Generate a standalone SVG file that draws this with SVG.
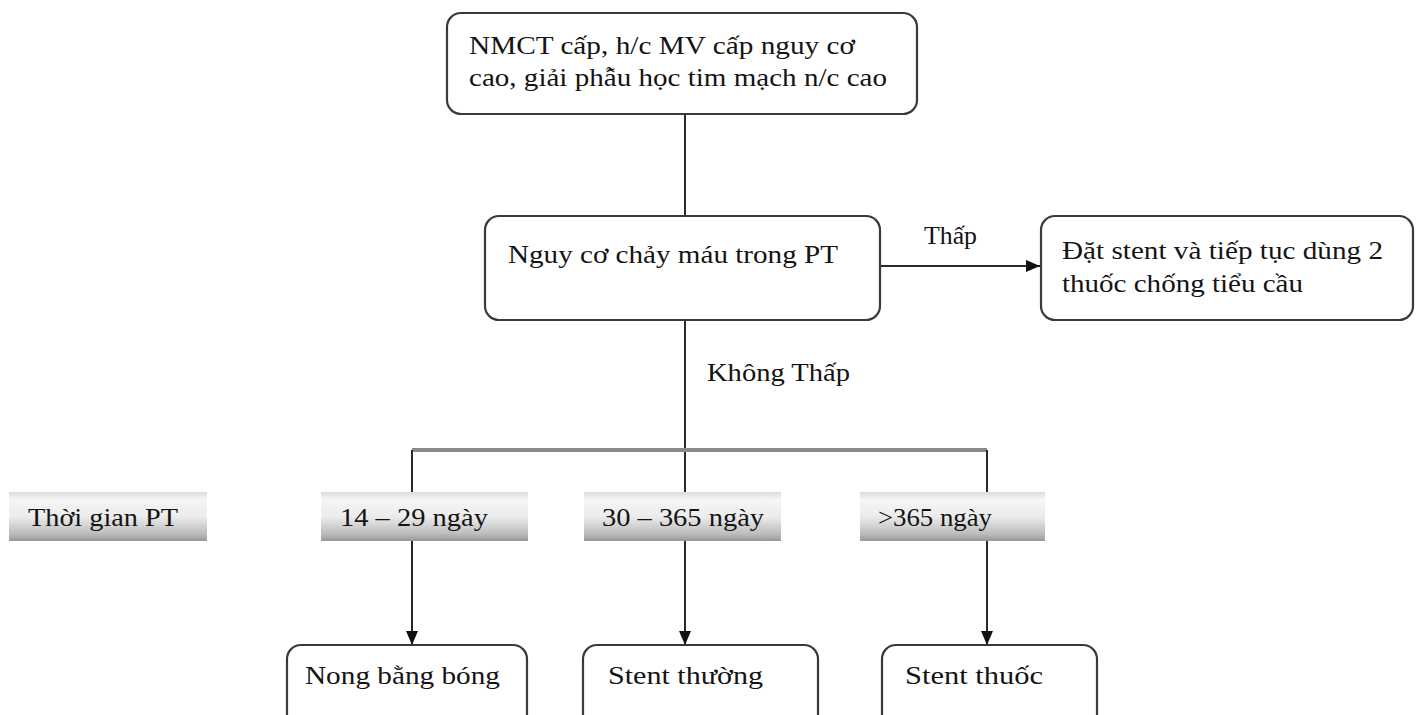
<svg xmlns="http://www.w3.org/2000/svg" width="1416" height="715" viewBox="0 0 1416 715">
  <style>
    .box { fill: #ffffff; stroke: #3a3a3a; stroke-width: 2.2; }
    .tag { fill: url(#tagFill); stroke: none; }
    .t { font-family: "Liberation Serif", "Times New Roman", serif; font-size: 25px; fill: #141414; }
    .ln { fill: none; stroke: #2a2a2a; stroke-width: 2; }
    .bar { fill: none; stroke: #8a8a8a; stroke-width: 4; }
  </style>
  <defs>
    <linearGradient id="tagFill" x1="0" y1="0" x2="0" y2="1">
      <stop offset="0" stop-color="#dcdcdc"/>
      <stop offset="0.15" stop-color="#f6f6f6"/>
      <stop offset="0.5" stop-color="#ececec"/>
      <stop offset="0.85" stop-color="#bdbdbd"/>
      <stop offset="1" stop-color="#989898"/>
    </linearGradient>
    <marker id="arrow" viewBox="0 0 14 12" refX="14" refY="6" markerWidth="14" markerHeight="12" markerUnits="userSpaceOnUse" orient="auto">
      <path d="M0,0 L14,6 L0,12 z" fill="#111"/>
    </marker>
  </defs>

  <rect width="1416" height="715" fill="#ffffff"/>

  <!-- connectors -->
  <g id="connectors">
    <line class="ln" x1="685" y1="114" x2="685" y2="216"/>
    <line class="ln" x1="880" y1="266" x2="1040" y2="266" marker-end="url(#arrow)"/>
    <line class="ln" x1="685" y1="320" x2="685" y2="492"/>
    <polyline class="bar" points="412,450 987,450"/>
    <line class="ln" x1="412" y1="450" x2="412" y2="492"/>
    <line class="ln" x1="987" y1="450" x2="987" y2="492"/>
    <line class="ln" x1="412" y1="541" x2="412" y2="645" marker-end="url(#arrow)"/>
    <line class="ln" x1="685" y1="541" x2="685" y2="645" marker-end="url(#arrow)"/>
    <line class="ln" x1="987" y1="541" x2="987" y2="645" marker-end="url(#arrow)"/>
    <text class="t" x="924" y="244" textLength="53" lengthAdjust="spacingAndGlyphs">Thấp</text>
    <text class="t" x="707" y="381" textLength="143" lengthAdjust="spacingAndGlyphs">Không Thấp</text>
  </g>

  <g id="node-start">
    <rect class="box" x="447" y="13" width="470" height="101" rx="14"/>
    <text class="t" x="469" y="54" textLength="386" lengthAdjust="spacingAndGlyphs">NMCT cấp, h/c MV cấp nguy cơ</text>
    <text class="t" x="469" y="86" textLength="418" lengthAdjust="spacingAndGlyphs">cao, giải phẫu học tim mạch n/c cao</text>
  </g>

  <g id="node-risk">
    <rect class="box" x="485" y="216" width="395" height="104" rx="14"/>
    <text class="t" x="508" y="263" textLength="330" lengthAdjust="spacingAndGlyphs">Nguy cơ chảy máu trong PT</text>
  </g>

  <g id="node-low">
    <rect class="box" x="1041" y="216" width="372" height="104" rx="14"/>
    <text class="t" x="1062" y="259" textLength="321" lengthAdjust="spacingAndGlyphs">Đặt stent và tiếp tục dùng 2</text>
    <text class="t" x="1062" y="292" textLength="241" lengthAdjust="spacingAndGlyphs">thuốc chống tiểu cầu</text>
  </g>

  <g id="tag-time">
    <rect class="tag" x="9" y="492" width="198" height="49"/>
    <text class="t" x="28" y="526" textLength="150" lengthAdjust="spacingAndGlyphs">Thời gian PT</text>
  </g>

  <g id="tag-14-29">
    <rect class="tag" x="321" y="492" width="207" height="49"/>
    <text class="t" x="340" y="526" textLength="148" lengthAdjust="spacingAndGlyphs">14 – 29 ngày</text>
  </g>

  <g id="tag-30-365">
    <rect class="tag" x="584" y="492" width="197" height="49"/>
    <text class="t" x="602" y="526" textLength="162" lengthAdjust="spacingAndGlyphs">30 – 365 ngày</text>
  </g>

  <g id="tag-over-365">
    <rect class="tag" x="860" y="492" width="185" height="49"/>
    <text class="t" x="878" y="526" textLength="114" lengthAdjust="spacingAndGlyphs">&gt;365 ngày</text>
  </g>

  <g id="node-balloon">
    <rect class="box" x="287" y="645" width="240" height="90" rx="14"/>
    <text class="t" x="305" y="684" textLength="195" lengthAdjust="spacingAndGlyphs">Nong bằng bóng</text>
  </g>

  <g id="node-bms">
    <rect class="box" x="583" y="645" width="235" height="90" rx="14"/>
    <text class="t" x="608" y="684" textLength="155" lengthAdjust="spacingAndGlyphs">Stent thường</text>
  </g>

  <g id="node-des">
    <rect class="box" x="882" y="645" width="215" height="90" rx="14"/>
    <text class="t" x="905" y="684" textLength="138" lengthAdjust="spacingAndGlyphs">Stent thuốc</text>
  </g>
</svg>
